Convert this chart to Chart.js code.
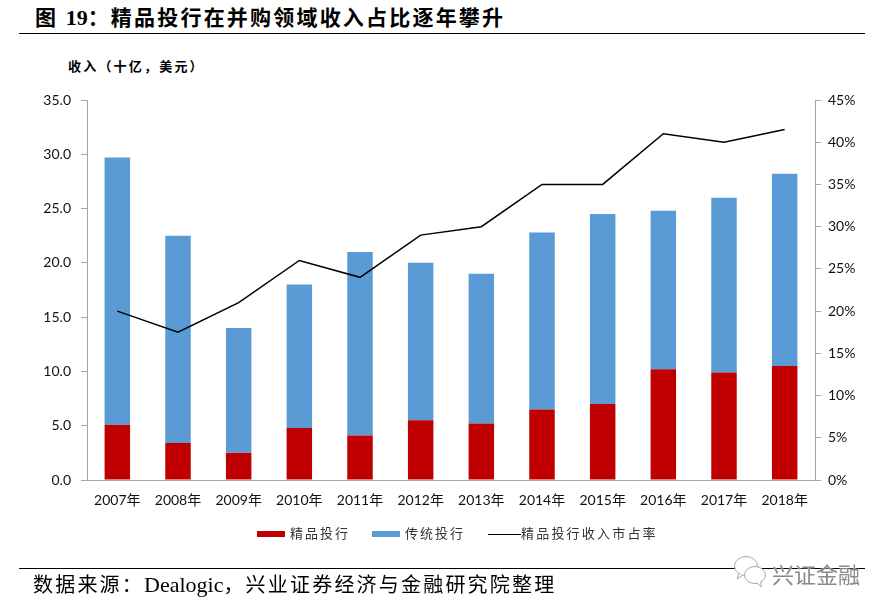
<!DOCTYPE html>
<html lang="zh">
<head>
<meta charset="utf-8">
<title>图 19</title>
<script src="https://cdn.jsdelivr.net/npm/chart.js@4/dist/chart.umd.min.js"></script>
<style>
  html, body { margin: 0; padding: 0; background: #fff; }
  #wrap { position: relative; width: 887px; height: 611px; overflow: hidden; font-family: "Liberation Serif", "Noto Sans CJK SC", serif; color: #000; }
  #grafico { position: absolute; left: 0; top: 0; }
  .texto { position: absolute; white-space: nowrap; }
  .regra { position: absolute; left: 19px; width: 846px; height: 1px; background: #000; }
  #titulo { left: 35px; top: 4px; font-size: 21px; font-weight: 700; letter-spacing: 2.2px; line-height: 28px; }
  #titulo .num { font-size: 22px; letter-spacing: 0; }
  #unidade { left: 68px; top: 57px; font-size: 13px; font-weight: 700; letter-spacing: 2.2px; line-height: 20px; }
  #fonte { left: 33px; top: 571px; font-size: 20px; letter-spacing: 2.2px; line-height: 28px; }
  #fonte .lat { font-size: 22px; letter-spacing: 0; }
  #marca { left: 772px; top: 559px; font-family: "Noto Sans CJK SC", sans-serif; font-size: 22px; line-height: 28px; color: #8a8a8a; text-shadow: 0 0 2px #fff; }
  #icone { position: absolute; left: 733px; top: 555px; }
  .leg { font-size: 13px; letter-spacing: 2px; line-height: 18px; color: #333; top: 525px; }
  .amostra { position: absolute; }
</style>
</head>
<body>
<div id="wrap">
  <div class="texto" id="titulo">图 <span class="num">19</span>：精品投行在并购领域收入占比逐年攀升</div>
  <div class="regra" style="top:33px"></div>
  <div class="texto" id="unidade">收入（十亿，美元）</div>
  <canvas id="grafico" width="887" height="611"></canvas>
  <div class="amostra" style="left:257px;top:531px;width:28px;height:6px;background:#c00000"></div>
  <div class="texto leg" style="left:290px">精品投行</div>
  <div class="amostra" style="left:372px;top:531px;width:28px;height:6px;background:#5b9bd5"></div>
  <div class="texto leg" style="left:405px">传统投行</div>
  <div class="amostra" style="left:488px;top:534px;width:33px;height:1px;background:#000"></div>
  <div class="texto leg" style="left:521px;letter-spacing:2.2px">精品投行收入市占率</div>
  <div class="regra" style="top:568px"></div>
  <div class="texto" id="fonte">数据来源：<span class="lat">Dealogic</span>，兴业证券经济与金融研究院整理</div>
  <svg id="icone" width="34" height="33" viewBox="0 0 34 33">
    <ellipse cx="13" cy="11" rx="11.5" ry="9.5" fill="#fff" stroke="#a8a8a8"/>
    <ellipse cx="22" cy="20" rx="10.5" ry="8.5" fill="#fff" stroke="#a8a8a8"/>
    <path d="M24 28 L28 32 L28 26 M6 19 L4 24 L10 20" fill="#fff" stroke="#a8a8a8"/>
  </svg>
  <div class="texto" id="marca">兴证金融</div>
</div>
<script>
// Dados
const anos = ['2007年','2008年','2009年','2010年','2011年','2012年','2013年','2014年','2015年','2016年','2017年','2018年'];
const boutique = [5.1, 3.4, 2.5, 4.8, 4.1, 5.5, 5.2, 6.5, 7.0, 10.2, 9.9, 10.5];
const tradicional = [24.6, 19.1, 11.5, 13.2, 16.9, 14.5, 13.8, 16.3, 17.5, 14.6, 16.1, 17.7];
const quota = [20, 17.5, 21, 26, 24, 29, 30, 35, 35, 41, 40, 41.5];

const COR_EIXO = '#a6a6a6';
const fonteEixo = { family: 'Lato, "Noto Sans CJK SC", sans-serif', size: 14 };

new Chart(document.getElementById('grafico'), {
  type: 'bar',
  data: {
    labels: anos,
    datasets: [
      { type: 'line', label: '精品投行收入市占率', data: quota, yAxisID: 'y1', borderColor: '#000', borderWidth: 1.5, pointRadius: 0, tension: 0, order: 0 },
      { label: '精品投行', data: boutique, yAxisID: 'y', backgroundColor: '#c00000', stack: 'a', order: 1 },
      { label: '传统投行', data: tradicional, yAxisID: 'y', backgroundColor: '#5b9bd5', stack: 'a', order: 2 }
    ]
  },
  options: {
    responsive: false,
    animation: false,
    layout: { padding: { top: 100, left: 0, right: 0, bottom: 0 } },
    plugins: { legend: { display: false }, tooltip: { enabled: false } },
    datasets: { bar: { barPercentage: 0.42, categoryPercentage: 1 } },
    scales: {
      x: {
        stacked: true,
        afterFit: s => { s.height = 131; },
        grid: { display: false, drawTicks: false },
        border: { color: COR_EIXO },
        ticks: { color: '#111', font: fonteEixo, maxRotation: 0, autoSkip: false, padding: 12 }
      },
      y: {
        stacked: true, min: 0, max: 35,
        position: 'left',
        afterFit: s => { s.width = 87; },
        grid: { drawOnChartArea: false, color: COR_EIXO, tickLength: 6 },
        border: { color: COR_EIXO },
        ticks: { stepSize: 5, color: '#111', font: fonteEixo, padding: 10, callback: v => v.toFixed(1) }
      },
      y1: {
        min: 0, max: 45,
        position: 'right',
        afterFit: s => { s.width = 72; },
        grid: { drawOnChartArea: false, color: COR_EIXO, tickLength: 6 },
        border: { color: COR_EIXO },
        ticks: { stepSize: 5, color: '#111', font: fonteEixo, padding: 7, callback: v => v + '%' }
      }
    }
  }
});
</script>
</body>
</html>
